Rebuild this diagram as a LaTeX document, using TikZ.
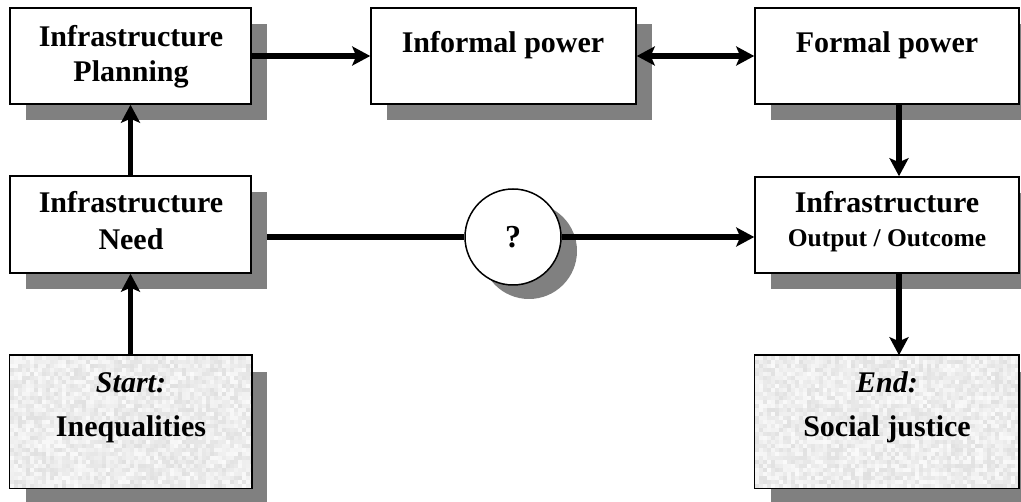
\documentclass[tikz,border=0pt]{standalone}
\usepackage{fontspec}
\setmainfont{Liberation Serif}
\usetikzlibrary{arrows.meta,shadows,calc}

\tikzset{
  box/.style={draw, line width=1.5pt, fill=white, inner sep=0pt, minimum height=96pt,
    drop shadow={shadow xshift=16pt, shadow yshift=-16pt, fill=black!50, opacity=1}},
  txt/.style={font=\fontsize{30}{35}\selectfont\bfseries, anchor=base, inner sep=0pt},
  smalltxt/.style={font=\fontsize{25.5}{30}\selectfont\bfseries, anchor=base, inner sep=0pt},
  tip/.tip={Stealth[length=18pt,width=19pt,inset=4pt]},
  link/.style={line width=5.5pt},
  arr/.style={link, -tip},
  dblarr/.style={link, tip-tip},
  frame/.style={line width=1.5pt}
}

\begin{document}
\begin{tikzpicture}[x=1pt,y=-1pt]
\useasboundingbox (0,0) rectangle (1021,502);

% boxes
\node[box, minimum width=241pt] (plan) at (130.5,56) {};
\node[box, minimum width=265pt] (informal) at (503.5,56) {};
\node[box, minimum width=264pt] (formal) at (887,56) {};
\node[box, minimum width=241pt, minimum height=97pt] (need) at (130.5,224.5) {};
\node[box, minimum width=264pt] (output) at (887,225) {};
\node[box, minimum width=241pt, minimum height=132pt, fill=black!8] (start) at (130.5,422) {};
\node[box, minimum width=263pt, minimum height=132pt, fill=black!8] (end) at (886.5,422) {};

% mottled fill of the start and end boxes
\pgfmathsetseed{42}
\begin{scope}
  \clip (start.north west) rectangle (start.south east);
  \foreach \i in {0,...,60}{\foreach \j in {0,...,33}{
    \pgfmathsetmacro\g{2+10*rnd}
    \fill[black!\g] ({10+4*\i},{356+4*\j}) rectangle ++(4,4);
  }}
\end{scope}
\draw[frame] (start.north west) rectangle (start.south east);
\begin{scope}
  \clip (end.north west) rectangle (end.south east);
  \foreach \i in {0,...,66}{\foreach \j in {0,...,33}{
    \pgfmathsetmacro\g{2+10*rnd}
    \fill[black!\g] ({755+4*\i},{356+4*\j}) rectangle ++(4,4);
  }}
\end{scope}
\draw[frame] (end.north west) rectangle (end.south east);

% question circle
\node[circle, draw, line width=1.5pt, fill=white, minimum size=96pt, inner sep=0pt,
  font=\fontsize{32}{36}\selectfont\bfseries,
  drop shadow={shadow xshift=16pt, shadow yshift=-14pt, fill=black!50, opacity=1}]
  (q) at (513,237) {?};

% texts
\node[txt] (plan1) at (131,47) {Infrastructure};
\node[txt] (plan2) at (131,82) {Planning};
\node[txt] (inf1) at (503,53) {Informal power};
\node[txt] (form1) at (887,53) {Formal power};
\node[txt] (need1) at (131,213) {Infrastructure};
\node[txt] (need2) at (131,250) {Need};
\node[txt] (out1) at (887,213) {Infrastructure};
\node[smalltxt] (out2) at (887,247) {Output / Outcome};
\node[txt, font=\fontsize{30}{35}\selectfont\bfseries\itshape] (st1) at (131,393) {Start:};
\node[txt] (st2) at (131,437) {Inequalities};
\node[txt, font=\fontsize{30}{35}\selectfont\bfseries\itshape] (en1) at (887,393) {End:};
\node[txt] (en2) at (887,437) {Social justice};

% connectors
\coordinate (rcol) at (899,0);
\coordinate (needport) at (267,237);
\draw[arr] (plan.east) -- (informal.west);
\draw[dblarr] (informal.east) -- (formal.west);
\draw[arr] (formal.south -| rcol) -- (output.north -| rcol);
\draw[arr] (output.south -| rcol) -- (end.north -| rcol);
\draw[arr] (need.north) -- (plan.south);
\draw[arr] (start.north) -- (need.south);
\draw[link] (q.west) -- (needport);
\draw[arr] (q.east) -- (output.west |- q.east);
\end{tikzpicture}
\end{document}
